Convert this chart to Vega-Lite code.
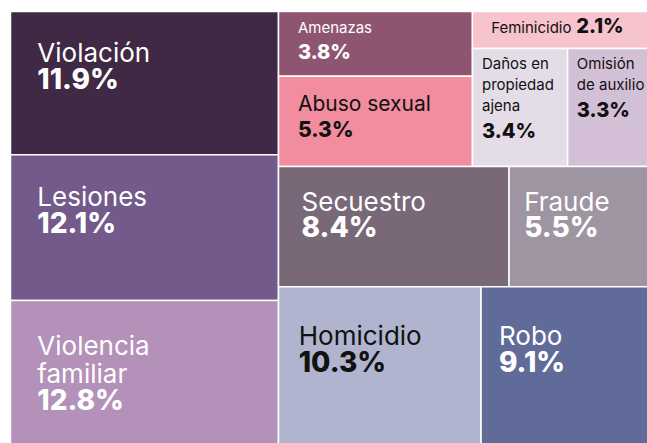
{
  "$schema": "https://vega.github.io/schema/vega-lite/v6.json",
  "width": 647,
  "height": 443,
  "autosize": "none",
  "padding": 0,
  "background": "white",
  "config": {"view": {"stroke": null}},
  "data": {"values": [
    {"cat": "Violación", "pct": 11.9, "k1": "A", "k2": "Violación", "k3": "Violación", "k4": "Violación", "k5": "Violación"},
    {"cat": "Lesiones", "pct": 12.1, "k1": "A", "k2": "Lesiones", "k3": "Lesiones", "k4": "Lesiones", "k5": "Lesiones"},
    {"cat": "Violencia\nfamiliar", "pct": 12.8, "k1": "A", "k2": "Violencia familiar", "k3": "Violencia familiar", "k4": "Violencia familiar", "k5": "Violencia familiar"},
    {"cat": "Amenazas", "pct": 3.8, "k1": "B", "k2": "f1", "k3": "c1", "k4": "Amenazas", "k5": "Amenazas"},
    {"cat": "Abuso sexual", "pct": 5.3, "k1": "B", "k2": "f1", "k3": "c1", "k4": "Abuso sexual", "k5": "Abuso sexual"},
    {"cat": "Feminicidio", "pct": 2.1, "k1": "B", "k2": "f1", "k3": "c2", "k4": "Feminicidio", "k5": "Feminicidio"},
    {"cat": "Daños en\npropiedad\najena", "pct": 3.4, "k1": "B", "k2": "f1", "k3": "c2", "k4": "g", "k5": "Daños"},
    {"cat": "Omisión\nde auxilio", "pct": 3.3, "k1": "B", "k2": "f1", "k3": "c2", "k4": "g", "k5": "Omisión"},
    {"cat": "Secuestro", "pct": 8.4, "k1": "B", "k2": "f2", "k3": "Secuestro", "k4": "Secuestro", "k5": "Secuestro"},
    {"cat": "Fraude", "pct": 5.5, "k1": "B", "k2": "f2", "k3": "Fraude", "k4": "Fraude", "k5": "Fraude"},
    {"cat": "Homicidio", "pct": 10.3, "k1": "B", "k2": "f3", "k3": "Homicidio", "k4": "Homicidio", "k5": "Homicidio"},
    {"cat": "Robo", "pct": 9.1, "k1": "B", "k2": "f3", "k3": "Robo", "k4": "Robo", "k5": "Robo"}
  ]},
  "transform": [
    {"window": [{"op": "row_number", "as": "i"}]},
    {"joinaggregate": [{"op": "sum", "field": "pct", "as": "s0"}]},
    {"joinaggregate": [{"op": "sum", "field": "pct", "as": "s1"}], "groupby": ["k1"]},
    {"joinaggregate": [{"op": "sum", "field": "pct", "as": "s2"}], "groupby": ["k1", "k2"]},
    {"joinaggregate": [{"op": "sum", "field": "pct", "as": "s3"}], "groupby": ["k1", "k2", "k3"]},
    {"joinaggregate": [{"op": "sum", "field": "pct", "as": "s4"}], "groupby": ["k1", "k2", "k3", "k4"]},
    {"window": [{"op": "sum", "field": "pct", "as": "c0"}], "sort": [{"field": "i", "order": "ascending"}], "frame": [null, 0]},
    {"window": [{"op": "sum", "field": "pct", "as": "c1"}], "sort": [{"field": "i", "order": "ascending"}], "frame": [null, 0], "groupby": ["k1"]},
    {"window": [{"op": "sum", "field": "pct", "as": "c2"}], "sort": [{"field": "i", "order": "ascending"}], "frame": [null, 0], "groupby": ["k1", "k2"]},
    {"window": [{"op": "sum", "field": "pct", "as": "c3"}], "sort": [{"field": "i", "order": "ascending"}], "frame": [null, 0], "groupby": ["k1", "k2", "k3"]},
    {"window": [{"op": "sum", "field": "pct", "as": "c4"}], "sort": [{"field": "i", "order": "ascending"}], "frame": [null, 0], "groupby": ["k1", "k2", "k3", "k4"]},
    {"calculate": "(datum.c0-datum.c1)/datum.s0", "as": "xa"},
    {"calculate": "datum.s1/datum.s0", "as": "wa"},
    {"calculate": "(datum.c1-datum.c2)/datum.s1", "as": "yb"},
    {"calculate": "datum.s2/datum.s1", "as": "hb"},
    {"calculate": "datum.xa+(datum.c2-datum.c3)/datum.s2*datum.wa", "as": "xc"},
    {"calculate": "datum.wa*datum.s3/datum.s2", "as": "wc"},
    {"calculate": "datum.yb+(datum.c3-datum.c4)/datum.s3*datum.hb", "as": "ty0"},
    {"calculate": "datum.hb*datum.s4/datum.s3", "as": "hd"},
    {"calculate": "datum.ty0+datum.hd", "as": "ty1"},
    {"calculate": "datum.xc+(datum.c4-datum.pct)/datum.s4*datum.wc", "as": "tx0"},
    {"calculate": "datum.tx0+datum.wc*datum.pct/datum.s4", "as": "tx1"},
    {"calculate": "(datum.ty1-datum.ty0)*443.1", "as": "hpx"},
    {"calculate": "length(split(datum.cat,'\\n'))", "as": "nl"},
    {"calculate": "datum.pct<4 ? 21 : (datum.pct<5.4 ? 0.23*datum.hpx+14 : 0.3*datum.hpx+8)", "as": "offn"},
    {"calculate": "datum.ty0+datum.offn/443.1", "as": "yn"},
    {"calculate": "datum.hpx<50", "as": "inl"},
    {"calculate": "datum.inl ? datum.yn : datum.yn+((datum.nl-1)*(datum.pct<4 ? 21 : 28.7)+26.5)/443.1", "as": "yp"},
    {"calculate": "datum.tx0+0.1*(datum.tx1-datum.tx0)", "as": "xn"},
    {"calculate": "datum.inl ? datum.xn+(length(datum.cat)*7.0+8)/655.7 : datum.xn", "as": "xp"},
    {"calculate": "format(datum.pct,'.1f')+'%'", "as": "plabel"}
  ],
  "layer": [
    {
      "mark": {"type": "rect", "stroke": "white", "strokeWidth": 1.5},
      "encoding": {
        "x": {"field": "tx0", "type": "quantitative", "axis": null, "scale": {"domain": [0, 0.41818, 1], "range": [10.5, 278.5, 660], "nice": false, "zero": false}},
        "x2": {"field": "tx1"},
        "y": {"field": "ty0", "type": "quantitative", "axis": null, "scale": {"domain": [0, 1], "range": [11.5, 454.6], "nice": false, "zero": false}},
        "y2": {"field": "ty1"},
        "color": {"field": "cat", "type": "nominal", "legend": null, "scale": {
          "domain": ["Violación", "Lesiones", "Violencia\nfamiliar", "Amenazas", "Abuso sexual", "Feminicidio", "Daños en\npropiedad\najena", "Omisión\nde auxilio", "Secuestro", "Fraude", "Homicidio", "Robo"],
          "range": ["#3f2944", "#725a8a", "#b491b8", "#8e5571", "#f28c9f", "#f7c3cc", "#e4dde8", "#d3bfd6", "#786878", "#9f94a1", "#b0b4cf", "#606b9a"]}}
      }
    },
    {
      "transform": [{"filter": "datum.pct >= 4"}],
      "mark": {"type": "text", "align": "left", "baseline": "alphabetic", "font": "Inter", "fontWeight": 400, "lineBreak": "\n", "lineHeight": 28.7},
      "encoding": {
        "x": {"field": "xn", "type": "quantitative"},
        "y": {"field": "yn", "type": "quantitative"},
        "text": {"field": "cat"},
        "size": {"field": "pct", "type": "quantitative", "legend": null, "scale": {"type": "threshold", "domain": [5.4], "range": [21, 26]}},
        "color": {"field": "cat", "type": "nominal", "legend": null, "scale": {
          "domain": ["Violación", "Lesiones", "Violencia\nfamiliar", "Abuso sexual", "Secuestro", "Fraude", "Homicidio", "Robo"],
          "range": ["#ffffff", "#ffffff", "#ffffff", "#111111", "#ffffff", "#ffffff", "#111111", "#ffffff"]}}
      }
    },
    {
      "transform": [{"filter": "datum.pct < 4"}],
      "mark": {"type": "text", "align": "left", "baseline": "alphabetic", "font": "Inter", "fontWeight": 400, "lineBreak": "\n", "lineHeight": 21, "fontSize": 15},
      "encoding": {
        "x": {"field": "xn", "type": "quantitative"},
        "y": {"field": "yn", "type": "quantitative"},
        "text": {"field": "cat"},
        "color": {"field": "cat", "type": "nominal", "legend": null, "scale": {
          "domain": ["Amenazas", "Feminicidio", "Daños en\npropiedad\najena", "Omisión\nde auxilio"],
          "range": ["#ffffff", "#111111", "#111111", "#111111"]}}
      }
    },
    {
      "mark": {"type": "text", "align": "left", "baseline": "alphabetic", "font": "Inter", "fontWeight": 800},
      "encoding": {
        "x": {"field": "xp", "type": "quantitative"},
        "y": {"field": "yp", "type": "quantitative"},
        "text": {"field": "plabel"},
        "size": {"field": "pct", "type": "quantitative", "legend": null, "scale": {"type": "threshold", "domain": [4, 5.4], "range": [20, 21, 28]}},
        "color": {"field": "cat", "type": "nominal", "legend": null, "scale": {
          "domain": ["Violación", "Lesiones", "Violencia\nfamiliar", "Amenazas", "Abuso sexual", "Feminicidio", "Daños en\npropiedad\najena", "Omisión\nde auxilio", "Secuestro", "Fraude", "Homicidio", "Robo"],
          "range": ["#ffffff", "#ffffff", "#ffffff", "#ffffff", "#111111", "#111111", "#111111", "#111111", "#ffffff", "#ffffff", "#111111", "#ffffff"]}}
      }
    }
  ],
  "resolve": {"scale": {"color": "independent", "size": "independent"}}
}
